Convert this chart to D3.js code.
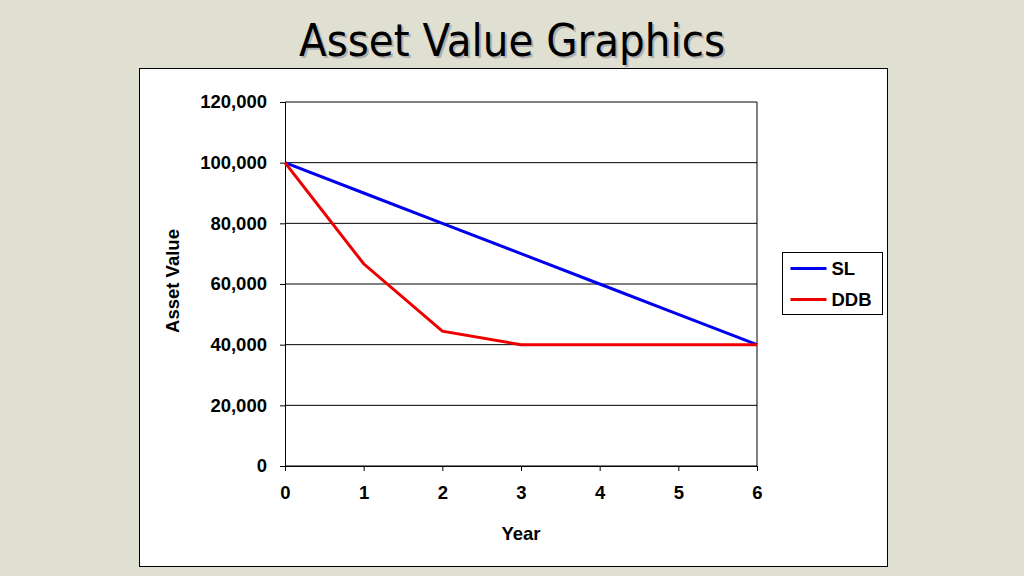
<!DOCTYPE html>
<html><head><meta charset="utf-8">
<script src="https://cdn.jsdelivr.net/npm/d3@7"></script>
<style>body{margin:0;background:#dfe0d1;}</style>
</head><body>
<div id="chart"></div>
<script>
const years = [0, 1, 2, 3, 4, 5, 6];
const slValues = [100000, 90000, 80000, 70000, 60000, 50000, 40000];
const ddbValues = [100000, 66667, 44444, 40000, 40000, 40000, 40000];
const yTicks = [0, 20000, 40000, 60000, 80000, 100000, 120000];

const svg = d3.select("#chart").append("svg").attr("width", 1024).attr("height", 576);
svg.append("rect").attr("width", 1024).attr("height", 576).attr("fill", "#dfe0d1");

// title with shadow
const title = "Asset Value Graphics";
svg.append("text").attr("x", 514).attr("y", 58).attr("text-anchor", "middle")
  .attr("font-family", "DejaVu Sans Condensed, DejaVu Sans").attr("font-size", 45)
  .attr("fill", "#b0b0b0").text(title);
svg.append("text").attr("x", 512).attr("y", 56).attr("text-anchor", "middle")
  .attr("font-family", "DejaVu Sans Condensed, DejaVu Sans").attr("font-size", 45)
  .attr("fill", "#000").text(title);

svg.append("rect").attr("x", 139.5).attr("y", 68.5).attr("width", 748).attr("height", 498)
  .attr("fill", "#fff").attr("stroke", "#000");

const x = d3.scaleLinear().domain([0, 6]).range([285, 757]);
const y = d3.scaleLinear().domain([0, 120000]).range([466, 102]);
const font = "Liberation Sans, Arial";
const fs = 18.5;

const g = svg.append("g").attr("font-family", font);
g.selectAll("line.grid").data(yTicks).enter().append("line")
  .attr("x1", x(0)).attr("x2", x(6)).attr("y1", d => y(d)).attr("y2", d => y(d))
  .attr("stroke", "#000").attr("stroke-width", 1);
g.append("line").attr("x1", x(6)).attr("x2", x(6)).attr("y1", y(0)).attr("y2", y(120000)).attr("stroke", "#000");

const yAxis = g.append("g").attr("transform", `translate(${x(0)},0)`)
  .call(d3.axisLeft(y).tickValues(yTicks).tickSize(5).tickFormat(d3.format(",")));
const xAxis = g.append("g").attr("transform", `translate(0,${y(0)})`)
  .call(d3.axisBottom(x).tickValues(years).tickSize(5).tickFormat(d3.format("d")));
[yAxis, xAxis].forEach(a => {
  a.selectAll("text").attr("font-family", font).attr("font-size", fs).attr("font-weight", "bold").attr("fill", "#000");
  a.selectAll("line,path").attr("stroke", "#000");
});
yAxis.selectAll("text").attr("dx", "-10");
xAxis.selectAll("text").attr("dy", "1.35em");

g.append("text").attr("x", 521).attr("y", 540).attr("text-anchor", "middle")
  .attr("font-size", fs).attr("font-weight", "bold").text("Year");
g.append("text").attr("transform", "translate(179,281) rotate(-90)").attr("text-anchor", "middle")
  .attr("font-size", fs).attr("font-weight", "bold").text("Asset Value");

const line = d3.line().x((d, i) => x(years[i])).y(d => y(d));
const series = [{name: "SL", values: slValues, color: "#0000ee"}, {name: "DDB", values: ddbValues, color: "#ee0000"}];
series.forEach(s => {
  g.append("path").attr("d", line(s.values)).attr("fill", "none").attr("stroke", s.color).attr("stroke-width", 3);
});

const leg = g.append("g").attr("transform", "translate(782.5,252.5)");
leg.append("rect").attr("width", 100).attr("height", 62).attr("fill", "#fff").attr("stroke", "#000");
series.forEach((s, i) => {
  const yy = 16 + i * 31;
  leg.append("line").attr("x1", 8).attr("x2", 44).attr("y1", yy).attr("y2", yy).attr("stroke", s.color).attr("stroke-width", 3);
  leg.append("text").attr("x", 49).attr("y", yy + 6).attr("font-size", fs).attr("font-weight", "bold").text(s.name);
});
</script>
</body></html>
